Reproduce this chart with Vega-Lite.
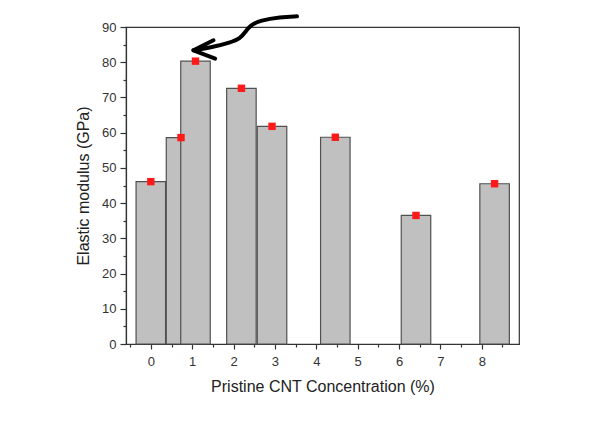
{
  "$schema": "https://vega.github.io/schema/vega-lite/v6.json",
  "autosize": "none",
  "width": 393,
  "height": 317,
  "padding": {"left": 126, "top": 27, "right": 93, "bottom": 85},
  "background": "white",
  "config": {
    "font": "Liberation Sans",
    "view": {"stroke": "#333333", "strokeWidth": 1.2},
    "scale": {"continuousPadding": 0},
    "axis": {"labelOverlap": false, "labelBound": false}
  },
  "resolve": {"axis": {"x": "independent", "y": "independent"}},
  "datasets": {
    "bars": [
      {"conc": 0.0, "modulus": 46.1},
      {"conc": 0.73, "modulus": 58.6},
      {"conc": 1.08, "modulus": 80.3},
      {"conc": 2.19, "modulus": 72.6},
      {"conc": 2.93, "modulus": 61.8},
      {"conc": 4.46, "modulus": 58.7},
      {"conc": 6.41, "modulus": 36.5},
      {"conc": 8.31, "modulus": 45.5}
    ],
    "arrow": [
      {"seg": "a", "ord": 1, "x": 3.533, "y": 93.02},
      {"seg": "a", "ord": 2, "x": 3.128, "y": 92.83},
      {"seg": "a", "ord": 3, "x": 2.645, "y": 91.89},
      {"seg": "a", "ord": 4, "x": 2.403, "y": 90.47},
      {"seg": "a", "ord": 5, "x": 2.282, "y": 88.57},
      {"seg": "a", "ord": 6, "x": 2.161, "y": 86.7},
      {"seg": "a", "ord": 7, "x": 1.919, "y": 85.56},
      {"seg": "a", "ord": 8, "x": 1.515, "y": 84.32},
      {"seg": "a", "ord": 9, "x": 1.031, "y": 83.38},
      {"seg": "b", "ord": 1, "x": 1.515, "y": 86.22},
      {"seg": "b", "ord": 2, "x": 1.031, "y": 83.38},
      {"seg": "b", "ord": 3, "x": 1.556, "y": 81.03}
    ]
  },
  "layer": [
    {
      "data": {"name": "bars"},
      "mark": {"type": "bar", "width": 29.5, "fill": "#c0c0c0", "stroke": "#505050", "strokeWidth": 1.2},
      "encoding": {
        "x": {
          "field": "conc", "type": "quantitative",
          "scale": {"domain": [-0.6, 8.9], "nice": false, "zero": false, "padding": 0},
          "axis": {
            "orient": "bottom",
            "title": null, "labels": false, "domain": false, "grid": false,
            "values": [-0.5, 0.5, 1.5, 2.5, 3.5, 4.5, 5.5, 6.5, 7.5, 8.5],
            "tickColor": "#333333", "tickWidth": 1.2, "tickSize": 3
          }
        },
        "y": {
          "field": "modulus", "type": "quantitative",
          "scale": {"domain": [0, 90], "nice": false, "padding": 0},
          "axis": {
            "orient": "left",
            "title": null, "labels": false, "domain": false, "grid": false,
            "values": [5, 15, 25, 35, 45, 55, 65, 75, 85],
            "tickColor": "#333333", "tickWidth": 1.2, "tickSize": 3
          }
        }
      }
    },
    {
      "data": {"name": "bars"},
      "mark": {"type": "point", "shape": "square", "filled": true, "size": 55, "color": "#ff1a1a", "opacity": 1},
      "encoding": {
        "x": {
          "field": "conc", "type": "quantitative",
          "axis": {
            "orient": "bottom",
            "title": "Pristine CNT Concentration (%)",
            "titleFont": "Liberation Sans", "titleFontSize": 16, "titleFontWeight": "normal", "titleColor": "#222222",
            "titlePadding": 10,
            "values": [0, 1, 2, 3, 4, 5, 6, 7, 8],
            "labelExpr": "'' + round(datum.value)",
            "labelOverlap": false, "labelFlush": false, "labelBound": false,
            "labelFont": "Liberation Sans", "labelFontSize": 13, "labelColor": "#333333", "labelPadding": 6,
            "grid": false, "domainColor": "#333333", "domainWidth": 1.2,
            "tickColor": "#333333", "tickWidth": 1.2, "tickSize": 5
          }
        },
        "y": {
          "field": "modulus", "type": "quantitative",
          "axis": {
            "orient": "left",
            "title": "Elastic modulus (GPa)",
            "titleFont": "Liberation Sans", "titleFontSize": 16, "titleFontWeight": "normal", "titleColor": "#222222",
            "titlePadding": 10,
            "values": [0, 10, 20, 30, 40, 50, 60, 70, 80, 90],
            "labelExpr": "'' + round(datum.value)",
            "labelOverlap": false, "labelFlush": false, "labelBound": false,
            "labelFont": "Liberation Sans", "labelFontSize": 13, "labelColor": "#333333", "labelPadding": 4,
            "grid": false, "domainColor": "#333333", "domainWidth": 1.2,
            "tickColor": "#333333", "tickWidth": 1.2, "tickSize": 6
          }
        }
      }
    },
    {
      "data": {"name": "arrow"},
      "transform": [{"filter": "datum.seg === 'a'"}],
      "mark": {"type": "line", "color": "black", "strokeWidth": 4, "strokeCap": "round", "strokeJoin": "round", "interpolate": "basis", "clip": false},
      "encoding": {
        "x": {"field": "x", "type": "quantitative", "axis": null},
        "y": {"field": "y", "type": "quantitative", "axis": null},
        "order": {"field": "ord", "type": "quantitative"}
      }
    },
    {
      "data": {"name": "arrow"},
      "transform": [{"filter": "datum.seg === 'b'"}],
      "mark": {"type": "line", "color": "black", "strokeWidth": 4, "strokeCap": "round", "strokeJoin": "round", "interpolate": "linear", "clip": false},
      "encoding": {
        "x": {"field": "x", "type": "quantitative", "axis": null},
        "y": {"field": "y", "type": "quantitative", "axis": null},
        "order": {"field": "ord", "type": "quantitative"}
      }
    }
  ]
}
